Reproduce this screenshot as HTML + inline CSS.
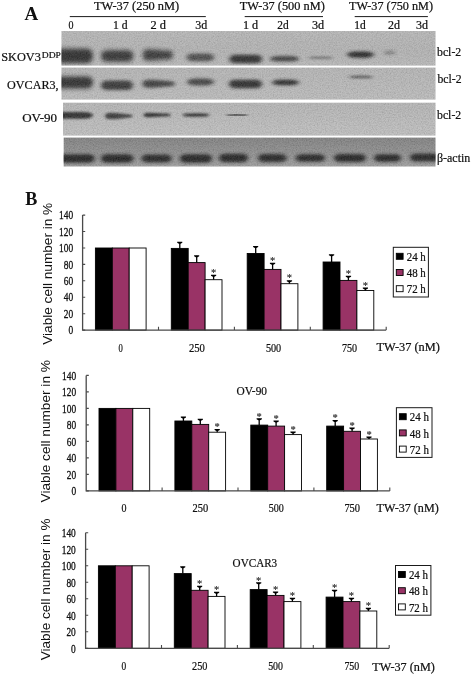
<!DOCTYPE html>
<html lang="en">
<head>
<meta charset="utf-8">
<title>Figure: TW-37 down-regulates bcl-2 and reduces viable cell number</title>
<style>
html,body{margin:0;padding:0;background:#fff;}
body{width:472px;height:674px;overflow:hidden;}
svg{display:block;will-change:transform;}
.se{font-family:"Liberation Serif", "DejaVu Serif", serif;}
.sa{font-family:"Liberation Sans", "DejaVu Sans", sans-serif;}
text{white-space:pre;}
</style>
</head>
<body>
<svg width="472" height="674" viewBox="0 0 472 674">
<defs>
<linearGradient id="bg1" x1="0" y1="0" x2="0" y2="1"><stop offset="0" stop-color="#b5b5b5"/><stop offset="0.6" stop-color="#b1b1b1"/><stop offset="1" stop-color="#b7b7b7"/></linearGradient>
<linearGradient id="bg2" x1="0" y1="0" x2="0" y2="1"><stop offset="0" stop-color="#b3b3b3"/><stop offset="1" stop-color="#b9b9b9"/></linearGradient>
<linearGradient id="bg3" x1="0" y1="0" x2="0" y2="1"><stop offset="0" stop-color="#b3b3b3"/><stop offset="1" stop-color="#bdbdbd"/></linearGradient>
<linearGradient id="bg4" x1="0" y1="0" x2="0" y2="1"><stop offset="0" stop-color="#808080"/><stop offset="0.5" stop-color="#8c8c8c"/><stop offset="1" stop-color="#9b9b9b"/></linearGradient>
<filter id="bl1" x="-10%" y="-10%" width="120%" height="120%"><feGaussianBlur stdDeviation="1.6 1.5"/></filter>
<filter id="bl2" x="-10%" y="-10%" width="120%" height="120%"><feGaussianBlur stdDeviation="1.4 1.1"/></filter>
<filter id="grain" x="0" y="0" width="100%" height="100%" color-interpolation-filters="sRGB"><feTurbulence type="fractalNoise" baseFrequency="0.75" numOctaves="2" seed="7"/><feColorMatrix type="matrix" values="1 1 1 0 -0.8  1 1 1 0 -0.8  1 1 1 0 -0.8  0 0 0 0 1"/></filter>
<clipPath id="cr0"><rect x="61.5" y="31.0" width="374.0" height="34.6"/></clipPath>
<clipPath id="cr1"><rect x="61.5" y="67.6" width="374.0" height="32.0"/></clipPath>
<clipPath id="cr2"><rect x="63.0" y="102.7" width="372.5" height="32.9"/></clipPath>
<clipPath id="cr3"><rect x="63.7" y="137.6" width="371.8" height="28.9"/></clipPath>
<filter id="b104x22" x="-30%" y="-150%" width="160%" height="400%"><feGaussianBlur stdDeviation="2.2 1.04"/></filter><filter id="b108x17" x="-30%" y="-150%" width="160%" height="400%"><feGaussianBlur stdDeviation="1.7 1.08"/></filter><filter id="b114x17" x="-30%" y="-150%" width="160%" height="400%"><feGaussianBlur stdDeviation="1.7 1.15"/></filter><filter id="b126x22" x="-30%" y="-150%" width="160%" height="400%"><feGaussianBlur stdDeviation="2.2 1.26"/></filter><filter id="b135x22" x="-30%" y="-150%" width="160%" height="400%"><feGaussianBlur stdDeviation="2.2 1.35"/></filter><filter id="b136x22" x="-30%" y="-150%" width="160%" height="400%"><feGaussianBlur stdDeviation="2.2 1.36"/></filter><filter id="b140x22" x="-30%" y="-150%" width="160%" height="400%"><feGaussianBlur stdDeviation="2.2 1.4"/></filter><filter id="b141x22" x="-30%" y="-150%" width="160%" height="400%"><feGaussianBlur stdDeviation="2.2 1.41"/></filter><filter id="b144x22" x="-30%" y="-150%" width="160%" height="400%"><feGaussianBlur stdDeviation="2.2 1.44"/></filter><filter id="b147x22" x="-30%" y="-150%" width="160%" height="400%"><feGaussianBlur stdDeviation="2.2 1.47"/></filter><filter id="b156x22" x="-30%" y="-150%" width="160%" height="400%"><feGaussianBlur stdDeviation="2.2 1.56"/></filter><filter id="b164x22" x="-30%" y="-150%" width="160%" height="400%"><feGaussianBlur stdDeviation="2.2 1.64"/></filter><filter id="b177x22" x="-30%" y="-150%" width="160%" height="400%"><feGaussianBlur stdDeviation="2.2 1.77"/></filter><filter id="b190x22" x="-30%" y="-150%" width="160%" height="400%"><feGaussianBlur stdDeviation="2.2 1.9"/></filter><filter id="b198x22" x="-30%" y="-150%" width="160%" height="400%"><feGaussianBlur stdDeviation="2.2 1.98"/></filter><filter id="b202x22" x="-30%" y="-150%" width="160%" height="400%"><feGaussianBlur stdDeviation="2.2 2.03"/></filter><filter id="b227x22" x="-30%" y="-150%" width="160%" height="400%"><feGaussianBlur stdDeviation="2.2 2.28"/></filter><filter id="b75x17" x="-30%" y="-150%" width="160%" height="400%"><feGaussianBlur stdDeviation="1.7 0.75"/></filter><filter id="b84x17" x="-30%" y="-150%" width="160%" height="400%"><feGaussianBlur stdDeviation="1.7 0.84"/></filter><filter id="b93x17" x="-30%" y="-150%" width="160%" height="400%"><feGaussianBlur stdDeviation="1.7 0.93"/></filter><clipPath id="crall"><rect x="61.5" y="31.0" width="374.0" height="34.6"/><rect x="61.5" y="67.6" width="374.0" height="32.0"/><rect x="63.0" y="102.7" width="372.5" height="32.9"/><rect x="63.7" y="137.6" width="371.8" height="28.9"/></clipPath>
</defs>
<rect width="472" height="674" fill="#fff"/>
<g id="blot">
<rect x="61.5" y="31.0" width="374.0" height="34.6" fill="url(#bg1)"/>
<rect x="61.5" y="67.6" width="374.0" height="32.0" fill="url(#bg2)"/>
<rect x="63.0" y="102.7" width="372.5" height="32.9" fill="url(#bg3)"/>
<rect x="63.7" y="137.6" width="371.8" height="28.9" fill="url(#bg4)"/>
<g clip-path="url(#cr0)">
<rect x="51.0" y="48.8" width="42.0" height="14.4" rx="5.5" ry="7.2" fill="#1e1e1e" opacity="0.88" filter="url(#b227x22)"/>
<rect x="101.0" y="50.2" width="32.5" height="11.6" rx="5.5" ry="5.8" fill="#1e1e1e" opacity="0.84" filter="url(#b198x22)"/>
<path d="M142.7 55.0Q142.7 49.2 148.7 49.2L155.6 49.8L171.7 51.0Q173.7 55.0 171.7 59.0L155.6 60.2L148.7 60.8Q142.7 60.8 142.7 55.0Z" fill="#1e1e1e" opacity="0.82" filter="url(#b190x22)"/>
<rect x="186.6" y="53.6" width="27.4" height="7.6" rx="5.5" ry="3.8" fill="#1e1e1e" opacity="0.69" filter="url(#b156x22)"/>
<rect x="229.4" y="54.8" width="32.6" height="8.4" rx="5.5" ry="4.2" fill="#1e1e1e" opacity="0.88" filter="url(#b164x22)"/>
<rect x="270.0" y="56.0" width="29.0" height="5.6" rx="9.0" ry="2.8" fill="#1e1e1e" opacity="0.78" filter="url(#b135x22)"/>
<rect x="308.6" y="56.4" width="24.4" height="2.7" rx="8.2" ry="1.4" fill="#1e1e1e" opacity="0.45" filter="url(#b104x22)"/>
<rect x="347.0" y="51.5" width="27.0" height="6.2" rx="9.0" ry="3.1" fill="#1e1e1e" opacity="0.94" filter="url(#b141x22)"/>
<rect x="384.0" y="50.3" width="11.0" height="4.8" rx="4.1" ry="2.4" fill="#1e1e1e" opacity="0.28" filter="url(#b126x22)"/>
</g>
<g clip-path="url(#cr1)">
<rect x="51.0" y="76.4" width="42.0" height="12.0" rx="5.5" ry="6.0" fill="#1e1e1e" opacity="0.88" filter="url(#b202x22)"/>
<rect x="101.0" y="80.5" width="32.0" height="9.6" rx="5.5" ry="4.8" fill="#1e1e1e" opacity="0.82" filter="url(#b177x22)"/>
<path d="M142.5 83.8Q142.5 79.7 148.5 79.7L156.2 80.1L173.5 81.5Q175.5 83.8 173.5 86.1L156.2 87.5L148.5 87.9Q142.5 87.9 142.5 83.8Z" fill="#1e1e1e" opacity="0.78" filter="url(#b156x22)"/>
<rect x="187.0" y="78.6" width="27.0" height="6.8" rx="9.0" ry="3.4" fill="#1e1e1e" opacity="0.75" filter="url(#b147x22)"/>
<rect x="229.0" y="79.8" width="33.0" height="8.4" rx="5.5" ry="4.2" fill="#1e1e1e" opacity="0.88" filter="url(#b164x22)"/>
<rect x="272.0" y="79.7" width="27.0" height="5.6" rx="9.0" ry="2.8" fill="#1e1e1e" opacity="0.92" filter="url(#b135x22)"/>
<rect x="349.0" y="75.6" width="24.0" height="2.7" rx="8.1" ry="1.4" fill="#1e1e1e" opacity="0.61" filter="url(#b104x22)"/>
</g>
<g clip-path="url(#cr2)">
<rect x="53.0" y="111.9" width="40.0" height="6.8" rx="9.0" ry="3.4" fill="#1e1e1e" opacity="0.88" filter="url(#b114x17)"/>
<path d="M105.0 116.0Q105.0 112.8 111.0 112.8L116.8 113.1L131.5 114.8Q133.5 116.0 131.5 117.2L116.8 118.9L111.0 119.2Q105.0 119.2 105.0 116.0Z" fill="#1e1e1e" opacity="0.80" filter="url(#b108x17)"/>
<path d="M143.5 115.0Q143.5 112.7 149.5 112.7L155.1 112.9L169.5 113.7Q171.5 115.0 169.5 116.3L155.1 117.1L149.5 117.3Q143.5 117.3 143.5 115.0Z" fill="#1e1e1e" opacity="0.88" filter="url(#b93x17)"/>
<rect x="182.5" y="113.3" width="27.0" height="3.4" rx="9.0" ry="1.7" fill="#1e1e1e" opacity="0.86" filter="url(#b84x17)"/>
<rect x="226.0" y="113.9" width="22.0" height="2.2" rx="7.5" ry="1.1" fill="#1e1e1e" opacity="0.56" filter="url(#b75x17)"/>
</g>
<g clip-path="url(#cr3)">
<rect x="54.0" y="154.3" width="40.8" height="8.4" rx="5.5" ry="4.2" fill="#1e1e1e" opacity="0.94" filter="url(#b144x22)"/>
<rect x="101.0" y="154.3" width="32.5" height="8.4" rx="5.5" ry="4.2" fill="#1e1e1e" opacity="0.94" filter="url(#b144x22)"/>
<rect x="141.5" y="154.5" width="30.2" height="8.0" rx="5.5" ry="4.0" fill="#1e1e1e" opacity="0.92" filter="url(#b140x22)"/>
<rect x="179.8" y="154.3" width="32.2" height="8.4" rx="5.5" ry="4.2" fill="#1e1e1e" opacity="0.94" filter="url(#b144x22)"/>
<rect x="219.0" y="153.8" width="29.0" height="8.4" rx="5.5" ry="4.2" fill="#1e1e1e" opacity="0.94" filter="url(#b144x22)"/>
<rect x="258.0" y="154.0" width="28.6" height="8.0" rx="5.5" ry="4.0" fill="#1e1e1e" opacity="0.92" filter="url(#b140x22)"/>
<rect x="295.6" y="154.2" width="29.4" height="7.6" rx="5.5" ry="3.8" fill="#1e1e1e" opacity="0.92" filter="url(#b136x22)"/>
<rect x="334.0" y="154.0" width="32.0" height="8.0" rx="5.5" ry="4.0" fill="#1e1e1e" opacity="0.94" filter="url(#b140x22)"/>
<rect x="374.0" y="154.2" width="27.0" height="7.6" rx="5.5" ry="3.8" fill="#1e1e1e" opacity="0.94" filter="url(#b136x22)"/>
<rect x="410.0" y="153.5" width="35.0" height="8.0" rx="5.5" ry="4.0" fill="#1e1e1e" opacity="0.92" filter="url(#b140x22)"/>
</g>
<rect x="61.5" y="31" width="374.0" height="136" filter="url(#grain)" opacity="0.10" clip-path="url(#crall)"/>
</g>
<text class="se" x="24.6" y="20.4" font-size="18" textLength="13.7" lengthAdjust="spacingAndGlyphs" font-weight="bold" fill="#111">A</text>
<text class="se" x="93.9" y="9.5" font-size="12" textLength="85.3" lengthAdjust="spacingAndGlyphs" fill="#111" stroke="#111" stroke-width="0.22">TW-37 (250 nM)</text>
<text class="se" x="239.8" y="9.5" font-size="12" textLength="85.0" lengthAdjust="spacingAndGlyphs" fill="#111" stroke="#111" stroke-width="0.22">TW-37 (500 nM)</text>
<text class="se" x="349.0" y="9.5" font-size="12" textLength="84.0" lengthAdjust="spacingAndGlyphs" fill="#111" stroke="#111" stroke-width="0.22">TW-37 (750 nM)</text>
<line x1="69.8" y1="16.6" x2="205.8" y2="16.6" stroke="#1a1a1a" stroke-width="1"/>
<line x1="244.7" y1="16.6" x2="323.0" y2="16.6" stroke="#1a1a1a" stroke-width="1"/>
<line x1="354.7" y1="16.6" x2="427.9" y2="16.6" stroke="#1a1a1a" stroke-width="1"/>
<text class="se" x="68.5" y="29.2" font-size="11.5" textLength="5.0" lengthAdjust="spacingAndGlyphs" fill="#111" stroke="#111" stroke-width="0.22">0</text>
<text class="se" x="112.9" y="29.2" font-size="11.5" textLength="14.6" lengthAdjust="spacingAndGlyphs" fill="#111" stroke="#111" stroke-width="0.22">1 d</text>
<text class="se" x="150.5" y="29.2" font-size="11.5" textLength="15.5" lengthAdjust="spacingAndGlyphs" fill="#111" stroke="#111" stroke-width="0.22">2 d</text>
<text class="se" x="195.3" y="29.2" font-size="11.5" textLength="12.0" lengthAdjust="spacingAndGlyphs" fill="#111" stroke="#111" stroke-width="0.22">3d</text>
<text class="se" x="242.9" y="29.0" font-size="11.5" textLength="15.2" lengthAdjust="spacingAndGlyphs" fill="#111" stroke="#111" stroke-width="0.22">1 d</text>
<text class="se" x="277.2" y="29.0" font-size="11.5" textLength="11.4" lengthAdjust="spacingAndGlyphs" fill="#111" stroke="#111" stroke-width="0.22">2d</text>
<text class="se" x="312.0" y="29.0" font-size="11.5" textLength="12.2" lengthAdjust="spacingAndGlyphs" fill="#111" stroke="#111" stroke-width="0.22">3d</text>
<text class="se" x="354.2" y="29.2" font-size="11.5" textLength="11.4" lengthAdjust="spacingAndGlyphs" fill="#111" stroke="#111" stroke-width="0.22">1d</text>
<text class="se" x="388.0" y="29.2" font-size="11.5" textLength="12.0" lengthAdjust="spacingAndGlyphs" fill="#111" stroke="#111" stroke-width="0.22">2d</text>
<text class="se" x="416.0" y="29.2" font-size="11.5" textLength="12.0" lengthAdjust="spacingAndGlyphs" fill="#111" stroke="#111" stroke-width="0.22">3d</text>
<text class="se" x="1.2" y="61.0" font-size="12" textLength="39.6" lengthAdjust="spacingAndGlyphs" fill="#111" stroke="#111" stroke-width="0.22">SKOV3</text>
<text class="se" x="41.8" y="57.5" font-size="9" textLength="19.0" lengthAdjust="spacingAndGlyphs" fill="#111" stroke="#111" stroke-width="0.22">DDP</text>
<text class="se" x="7.1" y="88.6" font-size="12.5" textLength="51.5" lengthAdjust="spacingAndGlyphs" fill="#111" stroke="#111" stroke-width="0.22">OVCAR3,</text>
<text class="se" x="22.2" y="121.9" font-size="12" textLength="34.9" lengthAdjust="spacingAndGlyphs" fill="#111" stroke="#111" stroke-width="0.22">OV-90</text>
<text class="se" x="437.0" y="55.8" font-size="12.5" textLength="24.2" lengthAdjust="spacingAndGlyphs" fill="#111" stroke="#111" stroke-width="0.22">bcl-2</text>
<text class="se" x="437.5" y="82.8" font-size="12.5" textLength="24.1" lengthAdjust="spacingAndGlyphs" fill="#111" stroke="#111" stroke-width="0.22">bcl-2</text>
<text class="se" x="437.0" y="119.4" font-size="12.5" textLength="24.2" lengthAdjust="spacingAndGlyphs" fill="#111" stroke="#111" stroke-width="0.22">bcl-2</text>
<text class="se" x="437.0" y="161.8" font-size="12.5" textLength="33.3" lengthAdjust="spacingAndGlyphs" fill="#111" stroke="#111" stroke-width="0.22">β-actin</text>
<text class="se" x="25.3" y="204.6" font-size="18" textLength="12.1" lengthAdjust="spacingAndGlyphs" font-weight="bold" fill="#111">B</text>
<g>
<rect x="95.4" y="248.0" width="16.9" height="82.1" fill="#000" stroke="#000" stroke-width="0.9"/>
<rect x="112.3" y="248.0" width="16.9" height="82.1" fill="#993366" stroke="#000" stroke-width="0.9"/>
<rect x="129.2" y="248.0" width="16.9" height="82.1" fill="#fff" stroke="#000" stroke-width="0.9"/>
<rect x="171.3" y="248.4" width="16.9" height="81.7" fill="#000" stroke="#000" stroke-width="0.9"/>
<path d="M179.8 248.4V242.2" stroke="#000" stroke-width="1.3" fill="none"/>
<path d="M177.2 241.7H182.3V242.7L180.6 243.7H178.9L177.2 242.7Z" fill="#000"/>
<rect x="188.2" y="262.6" width="16.9" height="67.5" fill="#993366" stroke="#000" stroke-width="0.9"/>
<path d="M196.7 262.6V255.8" stroke="#000" stroke-width="1.3" fill="none"/>
<path d="M194.1 255.3H199.2V256.3L197.5 257.3H195.8L194.1 256.3Z" fill="#000"/>
<rect x="205.1" y="279.7" width="16.9" height="50.4" fill="#fff" stroke="#000" stroke-width="0.9"/>
<path d="M213.6 279.7V275.2" stroke="#000" stroke-width="1.3" fill="none"/>
<path d="M211.0 274.7H216.2V275.7L214.4 276.7H212.8L211.0 275.7Z" fill="#000"/>
<text class="se" x="213.6" y="275.9" font-size="10.5" text-anchor="middle" fill="#1a1a1a" stroke="#1a1a1a" stroke-width="0.12">*</text>
<rect x="247.2" y="253.5" width="16.9" height="76.6" fill="#000" stroke="#000" stroke-width="0.9"/>
<path d="M255.7 253.5V246.6" stroke="#000" stroke-width="1.3" fill="none"/>
<path d="M253.1 246.1H258.2V247.1L256.4 248.1H254.8L253.1 247.1Z" fill="#000"/>
<rect x="264.1" y="269.4" width="16.9" height="60.7" fill="#993366" stroke="#000" stroke-width="0.9"/>
<path d="M272.6 269.4V263.2" stroke="#000" stroke-width="1.3" fill="none"/>
<path d="M269.9 262.7H275.2V263.7L273.4 264.7H271.8L269.9 263.7Z" fill="#000"/>
<text class="se" x="272.6" y="263.9" font-size="10.5" text-anchor="middle" fill="#1a1a1a" stroke="#1a1a1a" stroke-width="0.12">*</text>
<rect x="281.0" y="283.7" width="16.9" height="46.4" fill="#fff" stroke="#000" stroke-width="0.9"/>
<path d="M289.4 283.7V280.7" stroke="#000" stroke-width="1.3" fill="none"/>
<path d="M286.8 280.2H292.1V281.2L290.2 282.2H288.6L286.8 281.2Z" fill="#000"/>
<text class="se" x="289.4" y="281.4" font-size="10.5" text-anchor="middle" fill="#1a1a1a" stroke="#1a1a1a" stroke-width="0.12">*</text>
<rect x="323.1" y="262.0" width="16.9" height="68.1" fill="#000" stroke="#000" stroke-width="0.9"/>
<path d="M331.6 262.0V254.8" stroke="#000" stroke-width="1.3" fill="none"/>
<path d="M328.9 254.3H334.2V255.3L332.4 256.3H330.8L328.9 255.3Z" fill="#000"/>
<rect x="340.0" y="280.4" width="16.9" height="49.7" fill="#993366" stroke="#000" stroke-width="0.9"/>
<path d="M348.4 280.4V276.3" stroke="#000" stroke-width="1.3" fill="none"/>
<path d="M345.8 275.8H351.1V276.8L349.2 277.8H347.6L345.8 276.8Z" fill="#000"/>
<text class="se" x="348.4" y="277.0" font-size="10.5" text-anchor="middle" fill="#1a1a1a" stroke="#1a1a1a" stroke-width="0.12">*</text>
<rect x="356.9" y="290.5" width="16.9" height="39.6" fill="#fff" stroke="#000" stroke-width="0.9"/>
<path d="M365.4 290.5V288.1" stroke="#000" stroke-width="1.3" fill="none"/>
<path d="M362.8 287.6H368.0V288.6L366.2 289.6H364.6L362.8 288.6Z" fill="#000"/>
<text class="se" x="365.4" y="288.8" font-size="10.5" text-anchor="middle" fill="#1a1a1a" stroke="#1a1a1a" stroke-width="0.12">*</text>
<path d="M82.6 215.1V330.1H386.2" stroke="#4a4a4a" stroke-width="1.3" fill="none"/>
<path d="M82.6 215.1h2.6M82.6 231.5h2.6M82.6 248.0h2.6M82.6 264.4h2.6M82.6 280.8h2.6M82.6 297.2h2.6M82.6 313.7h2.6M82.6 330.1h2.6M158.5 330.1v-3.4M234.4 330.1v-3.4M310.3 330.1v-3.4M386.2 330.1v-3.4" stroke="#4a4a4a" stroke-width="1.1" fill="none"/>
<text class="se" x="59.1" y="219.2" font-size="11.5" textLength="14.1" lengthAdjust="spacingAndGlyphs" fill="#111" stroke="#111" stroke-width="0.3">140</text>
<text class="se" x="59.1" y="235.6" font-size="11.5" textLength="14.1" lengthAdjust="spacingAndGlyphs" fill="#111" stroke="#111" stroke-width="0.3">120</text>
<text class="se" x="59.1" y="252.1" font-size="11.5" textLength="14.1" lengthAdjust="spacingAndGlyphs" fill="#111" stroke="#111" stroke-width="0.3">100</text>
<text class="se" x="63.8" y="268.5" font-size="11.5" textLength="9.4" lengthAdjust="spacingAndGlyphs" fill="#111" stroke="#111" stroke-width="0.3">80</text>
<text class="se" x="63.8" y="284.9" font-size="11.5" textLength="9.4" lengthAdjust="spacingAndGlyphs" fill="#111" stroke="#111" stroke-width="0.3">60</text>
<text class="se" x="63.8" y="301.3" font-size="11.5" textLength="9.4" lengthAdjust="spacingAndGlyphs" fill="#111" stroke="#111" stroke-width="0.3">40</text>
<text class="se" x="63.8" y="317.8" font-size="11.5" textLength="9.4" lengthAdjust="spacingAndGlyphs" fill="#111" stroke="#111" stroke-width="0.3">20</text>
<text class="se" x="68.5" y="334.2" font-size="11.5" textLength="4.7" lengthAdjust="spacingAndGlyphs" fill="#111" stroke="#111" stroke-width="0.3">0</text>
<text class="sa" transform="translate(51.6,344.8) rotate(-90)" font-size="13.5" textLength="142.0" lengthAdjust="spacingAndGlyphs" fill="#111">Viable cell number in %</text>
<text class="se" x="118.6" y="352.1" font-size="11.5" textLength="4.3" lengthAdjust="spacingAndGlyphs" fill="#111" stroke="#111" stroke-width="0.22">0</text>
<text class="se" x="188.9" y="352.1" font-size="11.5" textLength="16.0" lengthAdjust="spacingAndGlyphs" fill="#111" stroke="#111" stroke-width="0.22">250</text>
<text class="se" x="265.9" y="352.1" font-size="11.5" textLength="15.3" lengthAdjust="spacingAndGlyphs" fill="#111" stroke="#111" stroke-width="0.22">500</text>
<text class="se" x="341.9" y="352.1" font-size="11.5" textLength="15.1" lengthAdjust="spacingAndGlyphs" fill="#111" stroke="#111" stroke-width="0.22">750</text>
<text class="se" x="376.4" y="351.3" font-size="12" textLength="63.4" lengthAdjust="spacingAndGlyphs" fill="#111" stroke="#111" stroke-width="0.22">TW-37 (nM)</text>
<rect x="393.3" y="247.3" width="35.1" height="49.7" fill="#fff" stroke="#1a1a1a" stroke-width="1"/>
<rect x="396.3" y="253.3" width="6.8" height="6.0" fill="#000" stroke="#000" stroke-width="0.9"/>
<text class="se" x="406.7" y="260.9" font-size="11.5" textLength="19.1" lengthAdjust="spacingAndGlyphs" fill="#111" stroke="#111" stroke-width="0.22">24 h</text>
<rect x="396.3" y="269.5" width="6.8" height="6.0" fill="#993366" stroke="#000" stroke-width="0.9"/>
<text class="se" x="406.7" y="277.1" font-size="11.5" textLength="19.1" lengthAdjust="spacingAndGlyphs" fill="#111" stroke="#111" stroke-width="0.22">48 h</text>
<rect x="396.3" y="285.7" width="6.8" height="6.0" fill="#fff" stroke="#000" stroke-width="0.9"/>
<text class="se" x="406.7" y="293.3" font-size="11.5" textLength="19.1" lengthAdjust="spacingAndGlyphs" fill="#111" stroke="#111" stroke-width="0.22">72 h</text>
</g>
<g>
<rect x="99.0" y="408.4" width="16.9" height="82.5" fill="#000" stroke="#000" stroke-width="0.9"/>
<rect x="115.9" y="408.4" width="16.9" height="82.5" fill="#993366" stroke="#000" stroke-width="0.9"/>
<rect x="132.8" y="408.4" width="16.9" height="82.5" fill="#fff" stroke="#000" stroke-width="0.9"/>
<rect x="174.9" y="421.0" width="16.9" height="69.9" fill="#000" stroke="#000" stroke-width="0.9"/>
<path d="M183.4 421.0V417.1" stroke="#000" stroke-width="1.3" fill="none"/>
<path d="M180.8 416.6H186.0V417.6L184.2 418.6H182.6L180.8 417.6Z" fill="#000"/>
<rect x="191.8" y="424.4" width="16.9" height="66.5" fill="#993366" stroke="#000" stroke-width="0.9"/>
<path d="M200.3 424.4V419.3" stroke="#000" stroke-width="1.3" fill="none"/>
<path d="M197.7 418.8H202.9V419.8L201.1 420.8H199.5L197.7 419.8Z" fill="#000"/>
<rect x="208.7" y="432.2" width="16.9" height="58.7" fill="#fff" stroke="#000" stroke-width="0.9"/>
<path d="M217.2 432.2V429.5" stroke="#000" stroke-width="1.3" fill="none"/>
<path d="M214.6 429.0H219.8V430.0L218.0 431.0H216.4L214.6 430.0Z" fill="#000"/>
<text class="se" x="217.2" y="430.2" font-size="10.5" text-anchor="middle" fill="#1a1a1a" stroke="#1a1a1a" stroke-width="0.12">*</text>
<rect x="250.8" y="425.1" width="16.9" height="65.8" fill="#000" stroke="#000" stroke-width="0.9"/>
<path d="M259.2 425.1V418.8" stroke="#000" stroke-width="1.3" fill="none"/>
<path d="M256.6 418.3H261.9V419.3L260.1 420.3H258.4L256.6 419.3Z" fill="#000"/>
<text class="se" x="259.2" y="419.5" font-size="10.5" text-anchor="middle" fill="#1a1a1a" stroke="#1a1a1a" stroke-width="0.12">*</text>
<rect x="267.7" y="426.1" width="16.9" height="64.8" fill="#993366" stroke="#000" stroke-width="0.9"/>
<path d="M276.1 426.1V421.0" stroke="#000" stroke-width="1.3" fill="none"/>
<path d="M273.5 420.5H278.8V421.5L276.9 422.5H275.3L273.5 421.5Z" fill="#000"/>
<text class="se" x="276.1" y="421.7" font-size="10.5" text-anchor="middle" fill="#1a1a1a" stroke="#1a1a1a" stroke-width="0.12">*</text>
<rect x="284.6" y="434.6" width="16.9" height="56.3" fill="#fff" stroke="#000" stroke-width="0.9"/>
<path d="M293.1 434.6V431.9" stroke="#000" stroke-width="1.3" fill="none"/>
<path d="M290.4 431.4H295.7V432.4L293.9 433.4H292.2L290.4 432.4Z" fill="#000"/>
<text class="se" x="293.1" y="432.6" font-size="10.5" text-anchor="middle" fill="#1a1a1a" stroke="#1a1a1a" stroke-width="0.12">*</text>
<rect x="326.7" y="426.1" width="16.9" height="64.8" fill="#000" stroke="#000" stroke-width="0.9"/>
<path d="M335.2 426.1V420.4" stroke="#000" stroke-width="1.3" fill="none"/>
<path d="M332.6 419.9H337.8V420.9L336.0 421.9H334.4L332.6 420.9Z" fill="#000"/>
<text class="se" x="335.2" y="421.1" font-size="10.5" text-anchor="middle" fill="#1a1a1a" stroke="#1a1a1a" stroke-width="0.12">*</text>
<rect x="343.6" y="431.3" width="16.9" height="59.6" fill="#993366" stroke="#000" stroke-width="0.9"/>
<path d="M352.1 431.3V427.9" stroke="#000" stroke-width="1.3" fill="none"/>
<path d="M349.4 427.4H354.7V428.4L352.9 429.4H351.2L349.4 428.4Z" fill="#000"/>
<text class="se" x="352.1" y="428.6" font-size="10.5" text-anchor="middle" fill="#1a1a1a" stroke="#1a1a1a" stroke-width="0.12">*</text>
<rect x="360.5" y="439.0" width="16.9" height="51.9" fill="#fff" stroke="#000" stroke-width="0.9"/>
<path d="M369.0 439.0V437.0" stroke="#000" stroke-width="1.3" fill="none"/>
<path d="M366.4 436.5H371.6V437.5L369.8 438.5H368.2L366.4 437.5Z" fill="#000"/>
<text class="se" x="369.0" y="437.7" font-size="10.5" text-anchor="middle" fill="#1a1a1a" stroke="#1a1a1a" stroke-width="0.12">*</text>
<path d="M86.2 375.4V490.9H389.8" stroke="#4a4a4a" stroke-width="1.3" fill="none"/>
<path d="M86.2 375.4h2.6M86.2 391.9h2.6M86.2 408.4h2.6M86.2 424.9h2.6M86.2 441.4h2.6M86.2 457.9h2.6M86.2 474.4h2.6M86.2 490.9h2.6M162.1 490.9v-3.4M238.0 490.9v-3.4M313.9 490.9v-3.4M389.8 490.9v-3.4" stroke="#4a4a4a" stroke-width="1.1" fill="none"/>
<text class="se" x="62.1" y="379.6" font-size="11.5" textLength="14.1" lengthAdjust="spacingAndGlyphs" fill="#111" stroke="#111" stroke-width="0.3">140</text>
<text class="se" x="62.1" y="396.1" font-size="11.5" textLength="14.1" lengthAdjust="spacingAndGlyphs" fill="#111" stroke="#111" stroke-width="0.3">120</text>
<text class="se" x="62.1" y="412.6" font-size="11.5" textLength="14.1" lengthAdjust="spacingAndGlyphs" fill="#111" stroke="#111" stroke-width="0.3">100</text>
<text class="se" x="66.8" y="429.1" font-size="11.5" textLength="9.4" lengthAdjust="spacingAndGlyphs" fill="#111" stroke="#111" stroke-width="0.3">80</text>
<text class="se" x="66.8" y="445.6" font-size="11.5" textLength="9.4" lengthAdjust="spacingAndGlyphs" fill="#111" stroke="#111" stroke-width="0.3">60</text>
<text class="se" x="66.8" y="462.1" font-size="11.5" textLength="9.4" lengthAdjust="spacingAndGlyphs" fill="#111" stroke="#111" stroke-width="0.3">40</text>
<text class="se" x="66.8" y="478.6" font-size="11.5" textLength="9.4" lengthAdjust="spacingAndGlyphs" fill="#111" stroke="#111" stroke-width="0.3">20</text>
<text class="se" x="71.5" y="495.1" font-size="11.5" textLength="4.7" lengthAdjust="spacingAndGlyphs" fill="#111" stroke="#111" stroke-width="0.3">0</text>
<text class="sa" transform="translate(49.6,502.4) rotate(-90)" font-size="13.5" textLength="142.3" lengthAdjust="spacingAndGlyphs" fill="#111">Viable cell number in %</text>
<text class="se" x="121.4" y="512.1" font-size="11.5" textLength="5.0" lengthAdjust="spacingAndGlyphs" fill="#111" stroke="#111" stroke-width="0.22">0</text>
<text class="se" x="192.6" y="512.1" font-size="11.5" textLength="15.7" lengthAdjust="spacingAndGlyphs" fill="#111" stroke="#111" stroke-width="0.22">250</text>
<text class="se" x="268.8" y="512.1" font-size="11.5" textLength="15.1" lengthAdjust="spacingAndGlyphs" fill="#111" stroke="#111" stroke-width="0.22">500</text>
<text class="se" x="344.4" y="512.1" font-size="11.5" textLength="15.7" lengthAdjust="spacingAndGlyphs" fill="#111" stroke="#111" stroke-width="0.22">750</text>
<text class="se" x="376.5" y="512.3" font-size="12" textLength="62.2" lengthAdjust="spacingAndGlyphs" fill="#111" stroke="#111" stroke-width="0.22">TW-37 (nM)</text>
<text class="se" x="236.5" y="394.8" font-size="12" textLength="30.5" lengthAdjust="spacingAndGlyphs" fill="#111" stroke="#111" stroke-width="0.22">OV-90</text>
<rect x="396.4" y="407.7" width="35.6" height="49.7" fill="#fff" stroke="#1a1a1a" stroke-width="1"/>
<rect x="399.4" y="413.7" width="6.8" height="6.0" fill="#000" stroke="#000" stroke-width="0.9"/>
<text class="se" x="409.8" y="421.3" font-size="11.5" textLength="19.1" lengthAdjust="spacingAndGlyphs" fill="#111" stroke="#111" stroke-width="0.22">24 h</text>
<rect x="399.4" y="429.9" width="6.8" height="6.0" fill="#993366" stroke="#000" stroke-width="0.9"/>
<text class="se" x="409.8" y="437.5" font-size="11.5" textLength="19.1" lengthAdjust="spacingAndGlyphs" fill="#111" stroke="#111" stroke-width="0.22">48 h</text>
<rect x="399.4" y="446.1" width="6.8" height="6.0" fill="#fff" stroke="#000" stroke-width="0.9"/>
<text class="se" x="409.8" y="453.7" font-size="11.5" textLength="19.1" lengthAdjust="spacingAndGlyphs" fill="#111" stroke="#111" stroke-width="0.22">72 h</text>
</g>
<g>
<rect x="98.4" y="565.8" width="16.9" height="82.5" fill="#000" stroke="#000" stroke-width="0.9"/>
<rect x="115.3" y="565.8" width="16.9" height="82.5" fill="#993366" stroke="#000" stroke-width="0.9"/>
<rect x="132.2" y="565.8" width="16.9" height="82.5" fill="#fff" stroke="#000" stroke-width="0.9"/>
<rect x="174.3" y="573.6" width="16.9" height="74.7" fill="#000" stroke="#000" stroke-width="0.9"/>
<path d="M182.8 573.6V566.8" stroke="#000" stroke-width="1.3" fill="none"/>
<path d="M180.2 566.3H185.3V567.3L183.6 568.3H181.9L180.2 567.3Z" fill="#000"/>
<rect x="191.2" y="590.3" width="16.9" height="58.0" fill="#993366" stroke="#000" stroke-width="0.9"/>
<path d="M199.7 590.3V586.2" stroke="#000" stroke-width="1.3" fill="none"/>
<path d="M197.1 585.7H202.2V586.7L200.5 587.7H198.8L197.1 586.7Z" fill="#000"/>
<text class="se" x="199.7" y="586.9" font-size="10.5" text-anchor="middle" fill="#1a1a1a" stroke="#1a1a1a" stroke-width="0.12">*</text>
<rect x="208.1" y="596.4" width="16.9" height="51.9" fill="#fff" stroke="#000" stroke-width="0.9"/>
<path d="M216.6 596.4V592.3" stroke="#000" stroke-width="1.3" fill="none"/>
<path d="M214.0 591.8H219.2V592.8L217.4 593.8H215.8L214.0 592.8Z" fill="#000"/>
<text class="se" x="216.6" y="593.0" font-size="10.5" text-anchor="middle" fill="#1a1a1a" stroke="#1a1a1a" stroke-width="0.12">*</text>
<rect x="250.2" y="589.6" width="16.9" height="58.7" fill="#000" stroke="#000" stroke-width="0.9"/>
<path d="M258.7 589.6V582.8" stroke="#000" stroke-width="1.3" fill="none"/>
<path d="M256.1 582.3H261.3V583.3L259.5 584.3H257.9L256.1 583.3Z" fill="#000"/>
<text class="se" x="258.7" y="583.5" font-size="10.5" text-anchor="middle" fill="#1a1a1a" stroke="#1a1a1a" stroke-width="0.12">*</text>
<rect x="267.1" y="595.4" width="16.9" height="52.9" fill="#993366" stroke="#000" stroke-width="0.9"/>
<path d="M275.6 595.4V592.0" stroke="#000" stroke-width="1.3" fill="none"/>
<path d="M272.9 591.5H278.2V592.5L276.4 593.5H274.8L272.9 592.5Z" fill="#000"/>
<text class="se" x="275.6" y="592.7" font-size="10.5" text-anchor="middle" fill="#1a1a1a" stroke="#1a1a1a" stroke-width="0.12">*</text>
<rect x="284.0" y="601.6" width="16.9" height="46.7" fill="#fff" stroke="#000" stroke-width="0.9"/>
<path d="M292.4 601.6V598.2" stroke="#000" stroke-width="1.3" fill="none"/>
<path d="M289.8 597.7H295.1V598.7L293.2 599.7H291.6L289.8 598.7Z" fill="#000"/>
<text class="se" x="292.4" y="598.9" font-size="10.5" text-anchor="middle" fill="#1a1a1a" stroke="#1a1a1a" stroke-width="0.12">*</text>
<rect x="326.1" y="597.1" width="16.9" height="51.1" fill="#000" stroke="#000" stroke-width="0.9"/>
<path d="M334.6 597.1V590.3" stroke="#000" stroke-width="1.3" fill="none"/>
<path d="M331.9 589.8H337.2V590.8L335.4 591.8H333.8L331.9 590.8Z" fill="#000"/>
<text class="se" x="334.6" y="591.0" font-size="10.5" text-anchor="middle" fill="#1a1a1a" stroke="#1a1a1a" stroke-width="0.12">*</text>
<rect x="343.0" y="601.6" width="16.9" height="46.7" fill="#993366" stroke="#000" stroke-width="0.9"/>
<path d="M351.4 601.6V598.2" stroke="#000" stroke-width="1.3" fill="none"/>
<path d="M348.8 597.7H354.1V598.7L352.2 599.7H350.6L348.8 598.7Z" fill="#000"/>
<text class="se" x="351.4" y="598.9" font-size="10.5" text-anchor="middle" fill="#1a1a1a" stroke="#1a1a1a" stroke-width="0.12">*</text>
<rect x="359.9" y="611.0" width="16.9" height="37.3" fill="#fff" stroke="#000" stroke-width="0.9"/>
<path d="M368.4 611.0V608.3" stroke="#000" stroke-width="1.3" fill="none"/>
<path d="M365.8 607.8H371.0V608.8L369.2 609.8H367.6L365.8 608.8Z" fill="#000"/>
<text class="se" x="368.4" y="609.0" font-size="10.5" text-anchor="middle" fill="#1a1a1a" stroke="#1a1a1a" stroke-width="0.12">*</text>
<path d="M85.6 532.8V648.3H389.2" stroke="#4a4a4a" stroke-width="1.3" fill="none"/>
<path d="M85.6 532.8h2.6M85.6 549.3h2.6M85.6 565.8h2.6M85.6 582.3h2.6M85.6 598.8h2.6M85.6 615.3h2.6M85.6 631.8h2.6M85.6 648.3h2.6M161.5 648.3v-3.4M237.4 648.3v-3.4M313.3 648.3v-3.4M389.2 648.3v-3.4" stroke="#4a4a4a" stroke-width="1.1" fill="none"/>
<text class="se" x="61.7" y="537.2" font-size="11.5" textLength="14.1" lengthAdjust="spacingAndGlyphs" fill="#111" stroke="#111" stroke-width="0.3">140</text>
<text class="se" x="61.7" y="553.7" font-size="11.5" textLength="14.1" lengthAdjust="spacingAndGlyphs" fill="#111" stroke="#111" stroke-width="0.3">120</text>
<text class="se" x="61.7" y="570.2" font-size="11.5" textLength="14.1" lengthAdjust="spacingAndGlyphs" fill="#111" stroke="#111" stroke-width="0.3">100</text>
<text class="se" x="66.4" y="586.7" font-size="11.5" textLength="9.4" lengthAdjust="spacingAndGlyphs" fill="#111" stroke="#111" stroke-width="0.3">80</text>
<text class="se" x="66.4" y="603.2" font-size="11.5" textLength="9.4" lengthAdjust="spacingAndGlyphs" fill="#111" stroke="#111" stroke-width="0.3">60</text>
<text class="se" x="66.4" y="619.7" font-size="11.5" textLength="9.4" lengthAdjust="spacingAndGlyphs" fill="#111" stroke="#111" stroke-width="0.3">40</text>
<text class="se" x="66.4" y="636.2" font-size="11.5" textLength="9.4" lengthAdjust="spacingAndGlyphs" fill="#111" stroke="#111" stroke-width="0.3">20</text>
<text class="se" x="71.1" y="652.7" font-size="11.5" textLength="4.7" lengthAdjust="spacingAndGlyphs" fill="#111" stroke="#111" stroke-width="0.3">0</text>
<text class="sa" transform="translate(50.4,660.3) rotate(-90)" font-size="13.5" textLength="141.8" lengthAdjust="spacingAndGlyphs" fill="#111">Viable cell number in %</text>
<text class="se" x="121.4" y="670.2" font-size="11.5" textLength="4.7" lengthAdjust="spacingAndGlyphs" fill="#111" stroke="#111" stroke-width="0.22">0</text>
<text class="se" x="192.0" y="670.2" font-size="11.5" textLength="15.4" lengthAdjust="spacingAndGlyphs" fill="#111" stroke="#111" stroke-width="0.22">250</text>
<text class="se" x="268.2" y="670.2" font-size="11.5" textLength="14.8" lengthAdjust="spacingAndGlyphs" fill="#111" stroke="#111" stroke-width="0.22">500</text>
<text class="se" x="344.4" y="670.2" font-size="11.5" textLength="14.9" lengthAdjust="spacingAndGlyphs" fill="#111" stroke="#111" stroke-width="0.22">750</text>
<text class="se" x="372.2" y="670.8" font-size="12" textLength="62.6" lengthAdjust="spacingAndGlyphs" fill="#111" stroke="#111" stroke-width="0.22">TW-37 (nM)</text>
<text class="se" x="232.6" y="566.5" font-size="12" textLength="44.6" lengthAdjust="spacingAndGlyphs" fill="#111" stroke="#111" stroke-width="0.22">OVCAR3</text>
<rect x="395.5" y="565.5" width="35.4" height="49.7" fill="#fff" stroke="#1a1a1a" stroke-width="1"/>
<rect x="398.5" y="571.5" width="6.8" height="6.0" fill="#000" stroke="#000" stroke-width="0.9"/>
<text class="se" x="408.9" y="579.1" font-size="11.5" textLength="19.1" lengthAdjust="spacingAndGlyphs" fill="#111" stroke="#111" stroke-width="0.22">24 h</text>
<rect x="398.5" y="587.7" width="6.8" height="6.0" fill="#993366" stroke="#000" stroke-width="0.9"/>
<text class="se" x="408.9" y="595.3" font-size="11.5" textLength="19.1" lengthAdjust="spacingAndGlyphs" fill="#111" stroke="#111" stroke-width="0.22">48 h</text>
<rect x="398.5" y="603.9" width="6.8" height="6.0" fill="#fff" stroke="#000" stroke-width="0.9"/>
<text class="se" x="408.9" y="611.5" font-size="11.5" textLength="19.1" lengthAdjust="spacingAndGlyphs" fill="#111" stroke="#111" stroke-width="0.22">72 h</text>
</g>
</svg>
</body>
</html>
